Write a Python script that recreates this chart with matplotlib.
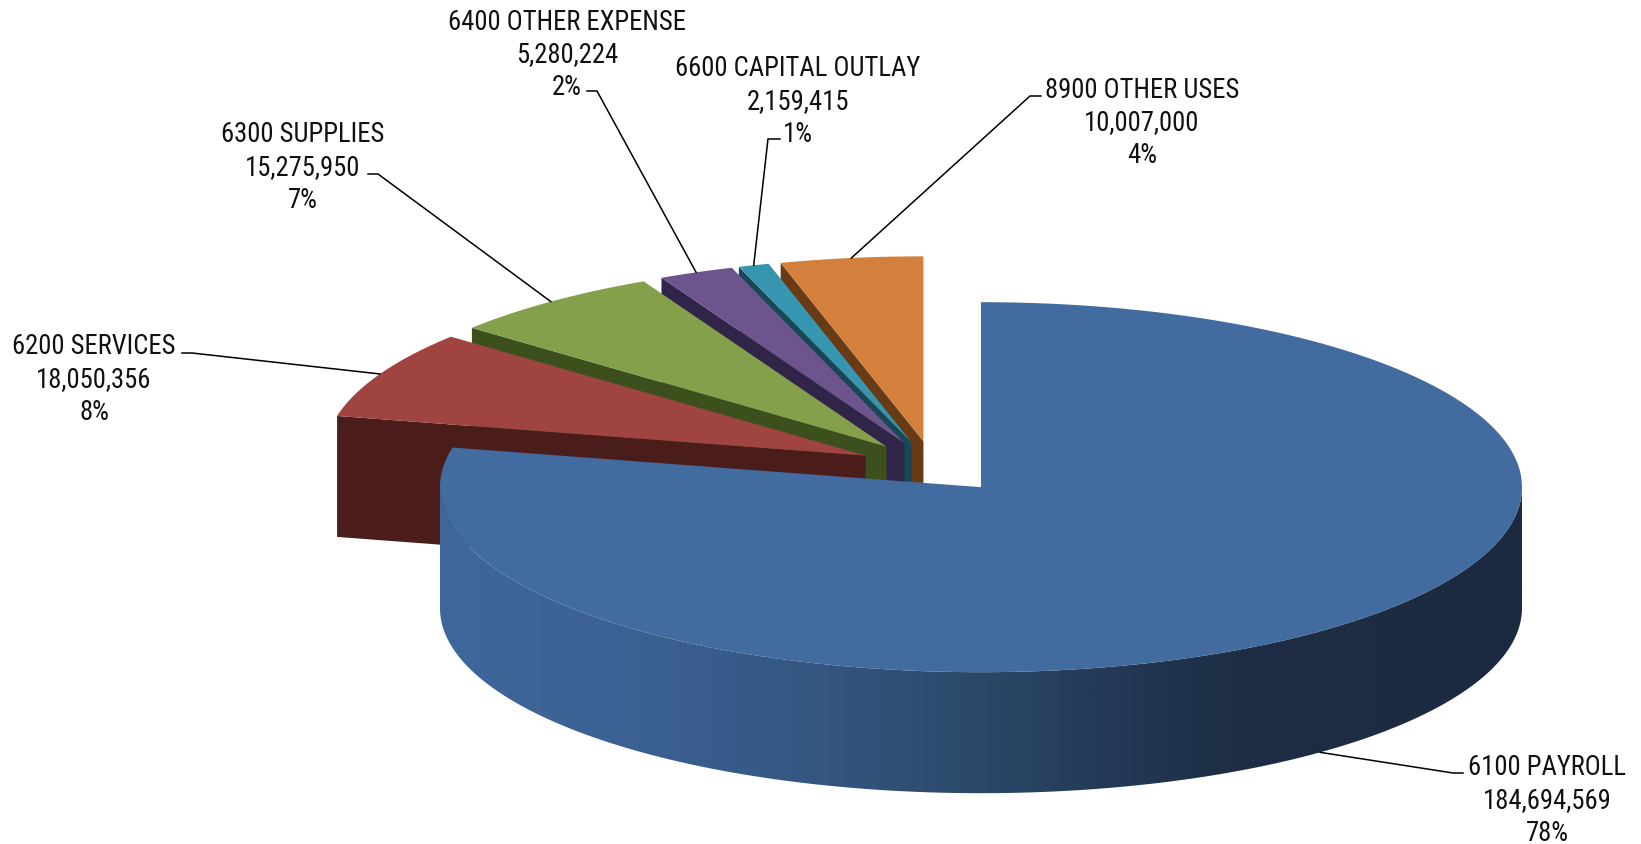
import numpy as np
import matplotlib.pyplot as plt
from matplotlib.patches import Polygon
from matplotlib.colors import LinearSegmentedColormap

plt.rcParams['font.family'] = ['Roboto Condensed', 'Liberation Sans Narrow', 'Roboto', 'DejaVu Sans']

categories = ['6100 PAYROLL', '6200 SERVICES', '6300 SUPPLIES',
              '6400 OTHER EXPENSE', '6600 CAPITAL OUTLAY', '8900 OTHER USES']
amounts = [184694569, 18050356, 15275950, 5280224, 2159415, 10007000]
pct_labels = ['78%', '8%', '7%', '2%', '1%', '4%']

top_colors = ['#426B9F', '#A04441', '#85A04A', '#6E548C', '#3696B0', '#D2803C']
side_colors = ['#1E2D45', '#4A1C1A', '#3C501E', '#302448', '#184856', '#683A16']

W, H = 1641, 845
CX, CY = 933.5, 468.0     # centre of the pie before exploding
RX, RY = 541, 185         # ellipse radii of the tilted top face
DEPTH = 121
EXPLODE = 0.14

# label block: centre x, first line y, leader points next to the text
label_pos = [
    (1547, 766, [(1463, 774), (1453, 774)]),
    (94, 345, [(182, 354), (192, 354)]),
    (303, 133, [(368, 175), (378, 175)]),
    (567, 20, [(587, 92), (597, 92)]),
    (798, 67, [(780, 140), (768, 140)]),
    (1142, 88, [(1041, 97), (1030, 97)]),
]

total = sum(amounts)
spans = np.array(amounts) / total * 360
starts = np.concatenate([[0], np.cumsum(spans)[:-1]])
ends = starts + spans
mids = starts + spans / 2


def centre(i):
    m = np.radians(mids[i])
    return np.array([CX + EXPLODE * RX * np.sin(m), CY - EXPLODE * RY * np.cos(m)])


def rim(c, deg, z=0.0):
    t = np.radians(np.atleast_1d(deg))
    return np.column_stack([c[0] + RX * np.sin(t), c[1] - RY * np.cos(t) + z])


fig = plt.figure(figsize=(16.41, 8.45), dpi=100)
ax = fig.add_axes([0, 0, 1, 1])

# small slices sit behind payroll, draw from the back one forward
for i in range(len(amounts) - 1, 0, -1):
    c = centre(i)
    a0 = rim(c, starts[i])[0]
    side = [c, a0, a0 + (0, DEPTH), c + (0, DEPTH)]
    ax.add_patch(Polygon(side, closed=True, fc=side_colors[i], ec='none', zorder=1))
    arc = rim(c, np.linspace(starts[i], ends[i], 80))
    ax.add_patch(Polygon(np.vstack([[c], arc]), closed=True, fc=top_colors[i], ec='none', zorder=1))

# payroll: front wall with a shading gradient, then the top face
c0 = centre(0)
wall_top = rim(c0, np.linspace(90, 270, 300))
wall = np.vstack([wall_top, (wall_top + (0, DEPTH))[::-1]])
wall_patch = Polygon(wall, closed=True, fc='none', ec='none')
ax.add_patch(wall_patch)
wall_cmap = LinearSegmentedColormap.from_list('wall', [
    (0.0, '#3F679B'), (0.185, '#3B6193'), (0.36, '#33557F'), (0.50, '#2B4868'),
    (0.64, '#223753'), (0.74, '#1E2D45'), (1.0, '#1C2A41')])
img = ax.imshow(np.linspace(0, 1, 512)[None, :], cmap=wall_cmap, aspect='auto',
                interpolation='bilinear',
                extent=(c0[0] - RX, c0[0] + RX, c0[1] + RY + DEPTH + 5, c0[1] - 5), zorder=2)
img.set_clip_path(wall_patch)

top_arc = rim(c0, np.linspace(0, ends[0], 500))
ax.add_patch(Polygon(np.vstack([[c0], top_arc]), closed=True, fc=top_colors[0], ec='none', zorder=3))

# data labels with leader lines
for i, (tx, ty, pts) in enumerate(label_pos):
    c = centre(i)
    if i == 0:
        anchor = rim(c, mids[i], DEPTH)[0]
    else:
        anchor = rim(c, mids[i])[0]
    xs = [p[0] for p in pts] + [anchor[0]]
    ys = [p[1] for p in pts] + [anchor[1]]
    ax.plot(xs, ys, color='black', lw=1.1, zorder=4, solid_joinstyle='miter')
    lines = [categories[i], f'{amounts[i]:,}', pct_labels[i]]
    for k, s in enumerate(lines):
        ax.text(tx, ty + k * 32.7 + 9.5, s, ha='center', va='baseline',
                fontsize=19.2, color='#111111', zorder=5)

ax.set_xlim(0, W)
ax.set_ylim(H, 0)
ax.axis('off')
fig.savefig('out.png', dpi=100, facecolor='white')
